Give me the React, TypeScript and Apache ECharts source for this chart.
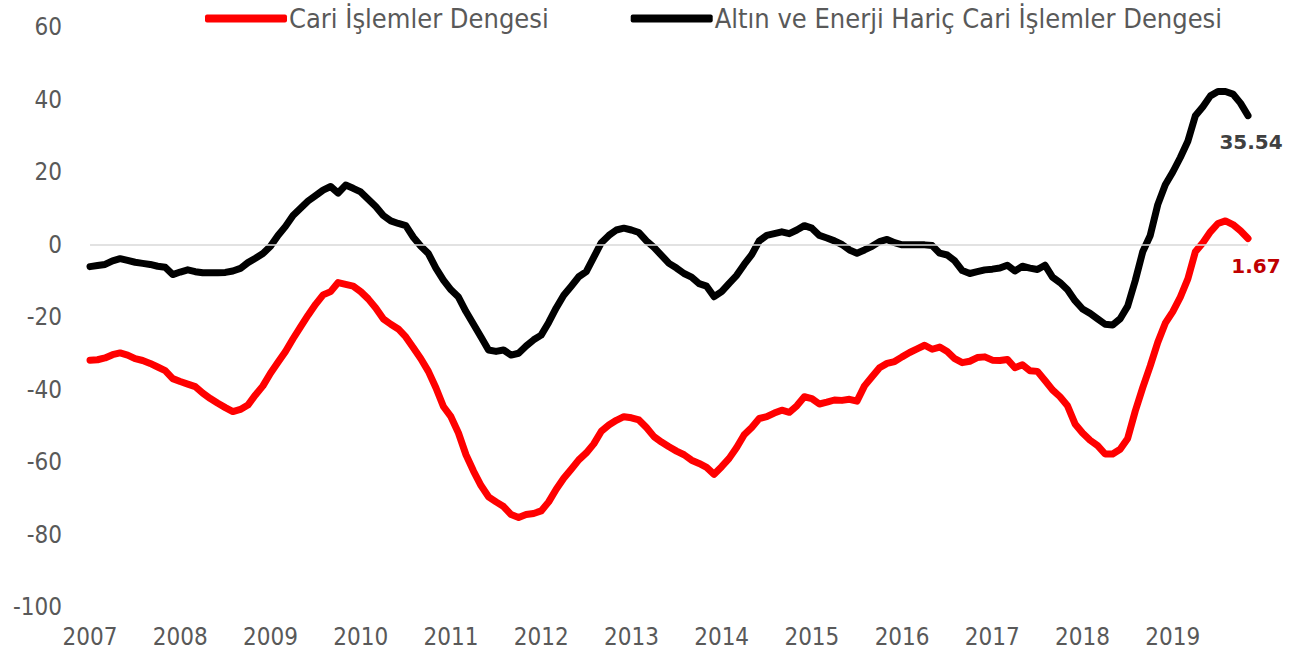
import React, { useEffect, useRef } from "react";
import * as echarts from "echarts";

const years = [2007, 2008, 2009, 2010, 2011, 2012, 2013, 2014, 2015, 2016, 2017, 2018, 2019];
const lastMonth = 11; // data ends Nov 2019

const seriesNames = ["Cari İşlemler Dengesi", "Altın ve Enerji Hariç Cari İşlemler Dengesi"];

const cariDengesi = [
  -31.9, -31.8, -31.3, -30.4, -29.9, -30.5, -31.5, -32.0, -32.8, -33.8, -34.8, -37.0,
  -37.8, -38.5, -39.2, -41.0, -42.5, -43.8, -45.0, -46.1, -45.5, -44.3, -41.5, -39.0,
  -35.5, -32.5, -29.5, -26.0, -22.7, -19.5, -16.5, -13.9, -13.0, -10.5, -11.0, -11.5,
  -13.0, -15.0, -17.5, -20.5, -22.0, -23.3, -25.5, -28.5, -31.5, -35.0, -39.5, -44.7,
  -47.5, -52.0, -58.0, -62.5, -66.5, -69.6, -71.0, -72.3, -74.5, -75.3, -74.5, -74.2,
  -73.5, -71.0, -67.5, -64.5, -62.0, -59.4, -57.5, -55.0, -51.5, -49.8, -48.5, -47.5,
  -47.8, -48.4, -50.5, -53.0, -54.5, -55.8, -57.0, -58.0, -59.5, -60.4, -61.5, -63.4,
  -61.3, -59.0, -56.0, -52.5, -50.5, -48.0, -47.5, -46.5, -45.7, -46.3, -44.5, -42.0,
  -42.5, -44.0, -43.5, -42.9, -43.0, -42.7, -43.2, -39.0, -36.5, -34.0, -32.8, -32.3,
  -31.0, -29.8, -28.8, -27.8, -28.9, -28.3, -29.5, -31.5, -32.6, -32.2, -31.2, -31.0,
  -31.9, -32.0, -31.7, -34.0, -33.2, -34.8, -35.0, -37.5, -40.1, -42.0, -44.5, -49.5,
  -52.0, -54.0, -55.5, -57.8, -57.8, -56.5, -53.5, -46.0, -39.5, -33.5, -27.0, -21.7,
  -18.5, -14.5, -9.5, -2.0, 0.5, 3.5, 5.8, 6.5, 5.5, 3.8, 1.67,
];

const altinEnerjiHaric = [
  -6.1, -5.8, -5.5, -4.5, -3.9, -4.4, -4.9, -5.2, -5.5, -6.0, -6.3, -8.3,
  -7.6, -7.0, -7.5, -7.8, -7.8, -7.8, -7.7, -7.3, -6.6, -5.0, -3.8, -2.5,
  -0.5, 2.5, 5.0, 8.0, 10.0, 12.0, 13.5, 15.0, 16.0, 14.2, 16.4, 15.5,
  14.5, 12.5, 10.5, 8.0, 6.5, 5.8, 5.2, 2.0, -0.5, -2.5, -6.5, -9.8,
  -12.5, -14.5, -18.5, -22.0, -25.5, -29.1, -29.5, -29.1, -30.5, -30.0, -28.0, -26.3,
  -25.0, -21.5, -17.5, -14.0, -11.5, -8.9, -7.5, -3.5, 0.5, 2.5, 4.0, 4.5,
  4.0, 3.3, 1.0, -0.8, -3.0, -5.2, -6.5, -8.0, -9.0, -10.8, -11.5, -14.4,
  -13.0, -10.7, -8.5, -5.5, -2.8, 1.0, 2.5, 3.0, 3.5, 3.0, 4.0, 5.2,
  4.5, 2.5, 1.8, 1.0, 0.0, -1.5, -2.4, -1.5, -0.5, 0.8, 1.4, 0.5,
  -0.1, -0.1, -0.1, -0.1, -0.3, -2.4, -2.9, -4.5, -7.2, -8.0, -7.5, -7.0,
  -6.8, -6.5, -5.7, -7.3, -6.0, -6.5, -6.9, -5.7, -9.0, -10.5, -12.5, -15.5,
  -17.8, -19.0, -20.5, -22.0, -22.2, -20.5, -17.0, -10.0, -2.0, 2.5, 11.0, 16.5,
  20.0, 24.0, 28.5, 35.5, 38.0, 41.0, 42.2, 42.2, 41.5, 39.0, 35.54,
];

const yTicks = { min: -100, max: 60, interval: 20 };

const months: string[] = [];
years.forEach((y) => {
  for (let m = 1; m <= 12; m++) {
    if (y === years[years.length - 1] && m > lastMonth) break;
    months.push(`${y}-${String(m).padStart(2, "0")}`);
  }
});

const endMark = (vals: number[], color: string, distance: number, dx: number) => ({
  silent: true,
  symbol: "circle",
  symbolSize: 1,
  itemStyle: { color: "rgba(0,0,0,0)" },
  label: {
    show: true,
    position: "bottom",
    distance,
    offset: [dx, 0],
    formatter: "{c}",
    color,
    fontFamily: "DejaVu Sans",
    fontWeight: "bold",
    fontSize: 20,
  },
  data: [{ coord: [months[vals.length - 1], vals[vals.length - 1]], value: vals[vals.length - 1] }],
});

export default function App() {
  const ref = useRef<HTMLDivElement>(null);
  useEffect(() => {
    if (!ref.current) return;
    const chart = echarts.init(ref.current, undefined, { renderer: "svg" });
    const font = "'Liberation Sans Narrow', 'DejaVu Sans Condensed', sans-serif";
    chart.setOption({
      animation: false,
      backgroundColor: "#ffffff",
      textStyle: { fontFamily: font },
      legend: {
        top: 0,
        left: 200,
        itemWidth: 82,
        itemHeight: 8,
        itemGap: 82,
        icon: "roundRect",
        textStyle: { fontSize: 27, color: "#595959", fontFamily: font, padding: [0, 0, 0, -3] },
        data: seriesNames,
      },
      grid: { left: 90, right: 48, top: 27, bottom: 50, containLabel: false },
      xAxis: {
        type: "category",
        boundaryGap: false,
        data: months,
        axisLine: { show: false },
        axisTick: { show: false },
        splitLine: { show: false },
        axisLabel: {
          interval: (i: number) => i % 12 === 0,
          formatter: (v: string) => v.slice(0, 4),
          fontSize: 24,
          color: "#595959",
          fontFamily: font,
          margin: 18,
        },
      },
      yAxis: {
        type: "value",
        min: yTicks.min,
        max: yTicks.max,
        interval: yTicks.interval,
        axisLine: { show: false },
        axisTick: { show: false },
        splitLine: { show: false },
        axisLabel: { fontSize: 24, color: "#595959", fontFamily: font, margin: 28 },
      },
      series: [
        {
          name: seriesNames[0],
          type: "line",
          data: cariDengesi,
          showSymbol: false,
          symbol: "none",
          lineStyle: { color: "#FF0000", width: 7, cap: "round", join: "round" },
          itemStyle: { color: "#FF0000" },
          markLine: {
            silent: true,
            symbol: "none",
            label: { show: false },
            lineStyle: { color: "#d9d9d9", width: 1.5, type: "solid" },
            data: [{ yAxis: 0 }],
          },
          markPoint: endMark(cariDengesi, "#C00000", 17, 8),
          z: 3,
        },
        {
          name: seriesNames[1],
          type: "line",
          data: altinEnerjiHaric,
          showSymbol: false,
          symbol: "none",
          lineStyle: { color: "#000000", width: 7, cap: "round", join: "round" },
          itemStyle: { color: "#000000" },
          markPoint: endMark(altinEnerjiHaric, "#404040", 16, 3),
          z: 3,
        },
      ],
    });
    return () => chart.dispose();
  }, []);
  return (
    <div
      ref={ref}
      style={{ position: "fixed", left: 0, top: 0, width: 1296, height: 657, background: "#fff" }}
    />
  );
}
